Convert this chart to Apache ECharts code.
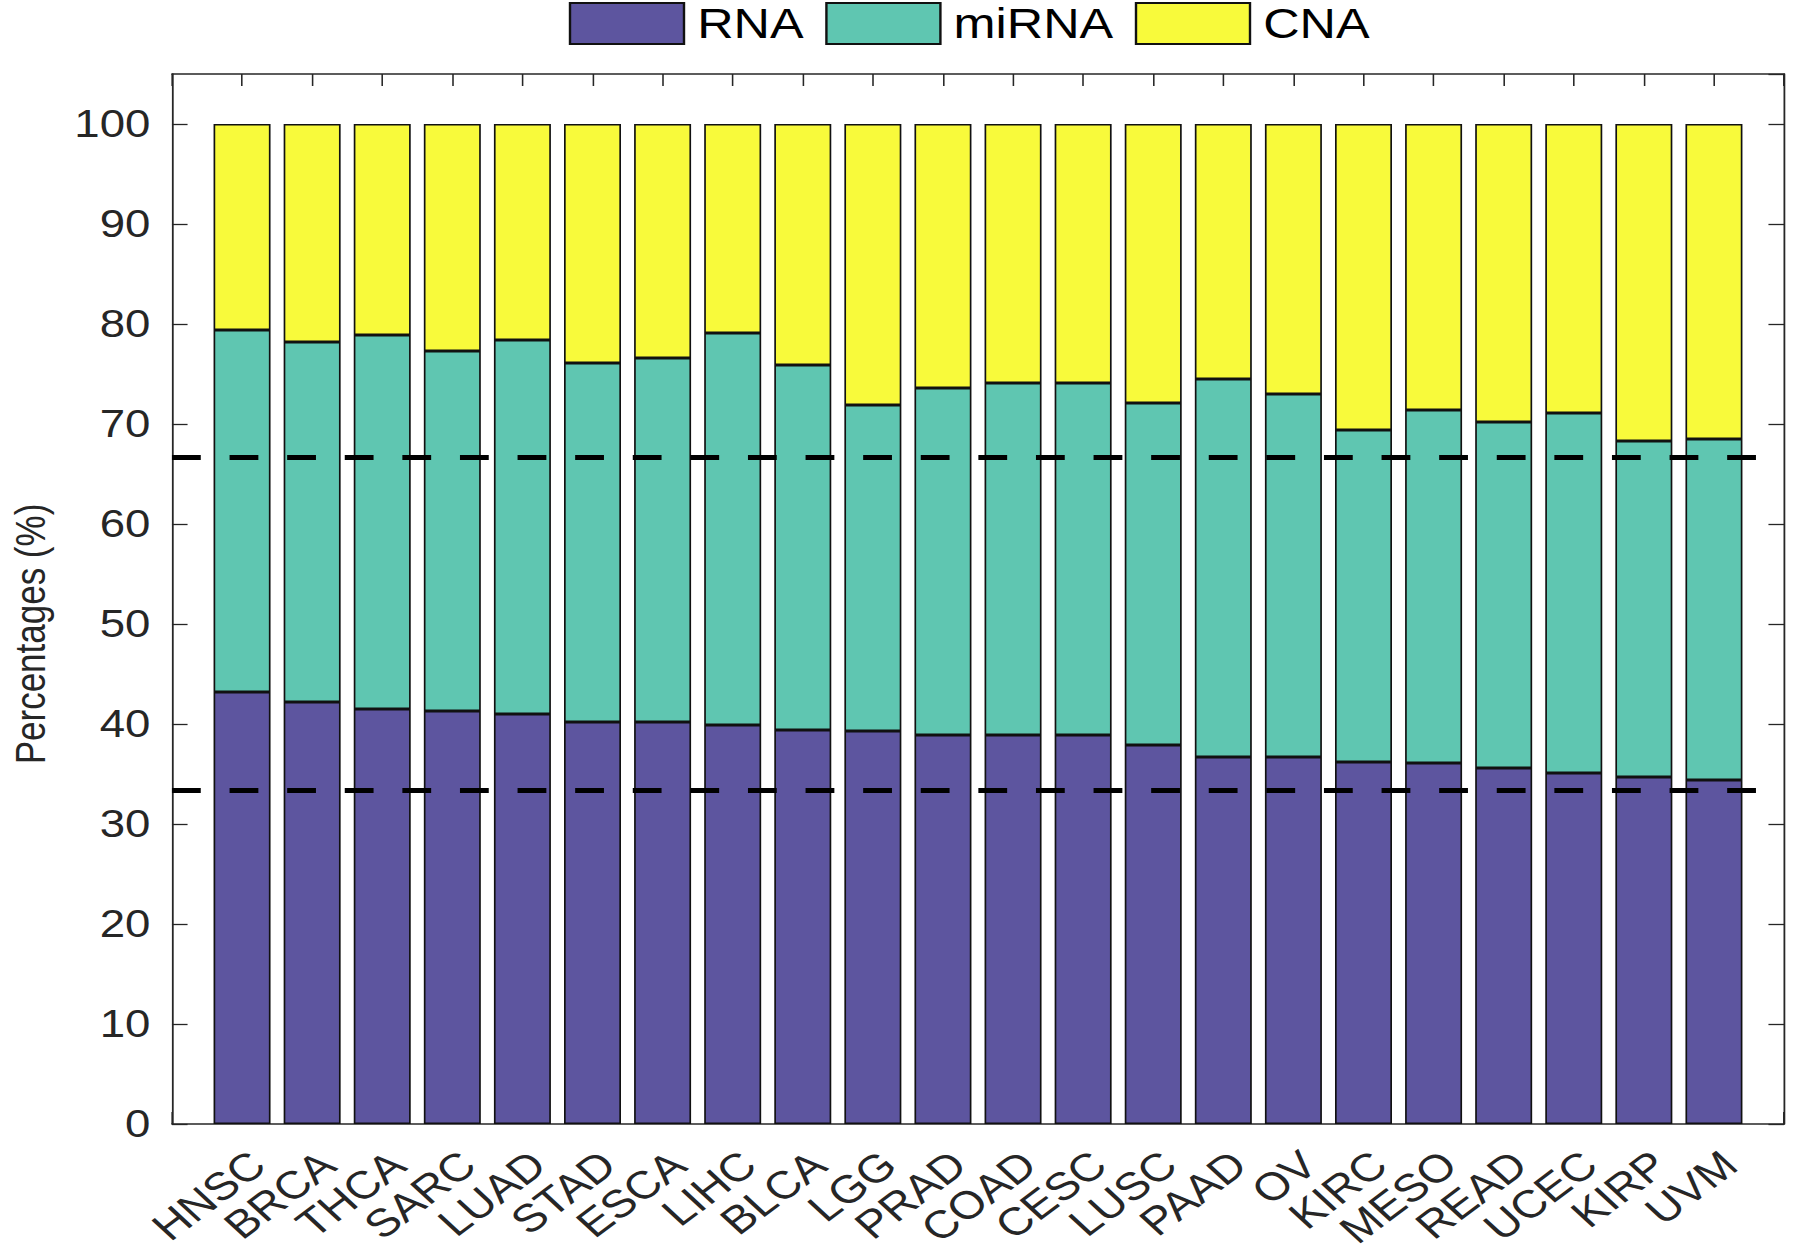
<!DOCTYPE html>
<html>
<head>
<meta charset="utf-8">
<script src="https://cdn.jsdelivr.net/npm/echarts@6/dist/echarts.min.js"></script>
<style>
  html, body { margin: 0; padding: 0; background: #ffffff; overflow: hidden; }
  #wrap { width: 1800px; height: 1253px; overflow: hidden; position: relative; }
  #chart { width: 1500px; height: 1253px; transform: scaleX(1.2); transform-origin: 0 0; }
</style>
</head>
<body>
<div id="wrap"><div id="chart"></div></div>
<script>
const categories = ['HNSC','BRCA','THCA','SARC','LUAD','STAD','ESCA','LIHC','BLCA','LGG','PRAD','COAD','CESC','LUSC','PAAD','OV','KIRC','MESO','READ','UCEC','KIRP','UVM'];
const rnaValues   = [43.2, 42.2, 41.5, 41.3, 41.0, 40.2, 40.2, 39.9, 39.4, 39.3, 38.9, 38.9, 38.9, 37.9, 36.7, 36.7, 36.2, 36.1, 35.6, 35.1, 34.7, 34.4];
const mirnaValues = [36.2, 36.0, 37.4, 36.0, 37.4, 35.9, 36.4, 39.2, 36.5, 32.6, 34.7, 35.2, 35.2, 34.2, 37.8, 36.3, 33.2, 35.3, 34.6, 36.0, 33.6, 34.1];
const cnaValues   = [20.6, 21.8, 21.1, 22.7, 21.6, 23.9, 23.4, 20.9, 24.1, 28.1, 26.4, 25.9, 25.9, 27.9, 25.5, 27.0, 30.6, 28.6, 29.8, 28.9, 31.7, 31.5];
const seriesNames = ['RNA', 'miRNA', 'CNA'];
const referenceLines = [33.33, 66.67];
const yAxisTitle = 'Percentages (%)';

const FONT = 'Liberation Sans, Arial, Helvetica, sans-serif';
const TXT = '#262626';
const colors = ['#5d559f', '#5fc6b1', '#f8fa3b'];

// MATLAB-like xlim [0, N+1]: empty slots at both ends, points on ticks
const axisCats = [''].concat(categories, ['']);
const pad = vals => ['-'].concat(vals, ['-']);

const barBase = (name, vals, color) => ({
  name: name,
  type: 'bar',
  stack: 'total',
  barWidth: 47.5,
  data: pad(vals),
  itemStyle: { color: color, borderColor: '#111111', borderWidth: 1.4 },
  emphasis: { disabled: true },
  animation: false
});

const s3 = barBase(seriesNames[2], cnaValues, colors[2]);
s3.markLine = {
  silent: true,
  symbol: ['none', 'none'],
  label: { show: false },
  lineStyle: { color: '#000000', width: 5, type: [24, 24] },
  data: referenceLines.map(v => ({ yAxis: v }))
};

const xBase = {
  type: 'category',
  data: axisCats,
  boundaryGap: false,
  axisLine: { show: true, onZero: false, lineStyle: { color: TXT, width: 1.5 } },
  axisTick: { show: true, inside: true, length: 12, interval: 0, lineStyle: { color: TXT, width: 1.3 } },
  splitLine: { show: false }
};

const chart = echarts.init(document.getElementById('chart'), null, { renderer: 'svg' });
chart.setOption({
  animation: false,
  backgroundColor: '#ffffff',
  grid: { left: 143.3, right: 13.3, top: 74, bottom: 129, containLabel: false },
  legend: {
    data: seriesNames,
    left: 469,
    top: -3,
    itemWidth: 95,
    itemHeight: 41,
    itemGap: 18,
    icon: 'rect',
    textStyle: { fontFamily: FONT, fontSize: 42, color: '#000000', padding: [0, 0, 0, 6] }
  },
  xAxis: [
    Object.assign({}, xBase, {
      position: 'bottom',
      axisLabel: { rotate: 42, margin: 20, interval: 0, verticalAlign: 'top', fontFamily: FONT, fontSize: 39, color: TXT }
    }),
    Object.assign({}, xBase, {
      position: 'top',
      axisLabel: { show: false }
    })
  ],
  yAxis: [
    {
      type: 'value', min: 0, max: 105, interval: 10,
      position: 'left',
      axisLine: { show: true, lineStyle: { color: TXT, width: 1.5 } },
      axisTick: { show: true, inside: true, length: 13, lineStyle: { color: TXT, width: 1.3 } },
      splitLine: { show: false },
      axisLabel: {
        margin: 18, fontFamily: FONT, fontSize: 38, color: TXT,
        showMaxLabel: false,
        formatter: v => v > 100 ? '' : String(v)
      }
    },
    {
      type: 'value', min: 0, max: 105, interval: 10,
      position: 'right',
      axisLine: { show: true, lineStyle: { color: TXT, width: 1.5 } },
      axisTick: { show: true, inside: true, length: 13, lineStyle: { color: TXT, width: 1.3 } },
      splitLine: { show: false },
      axisLabel: { show: false }
    }
  ],
  graphic: [
    {
      type: 'text',
      x: 25, y: 634,
      rotation: Math.PI / 2,
      style: {
        text: yAxisTitle, fontFamily: FONT, fontSize: 35, fill: TXT,
        textAlign: 'center', textVerticalAlign: 'middle'
      }
    }
  ],
  series: [
    barBase(seriesNames[0], rnaValues, colors[0]),
    barBase(seriesNames[1], mirnaValues, colors[1]),
    s3
  ]
});
</script>
</body>
</html>
